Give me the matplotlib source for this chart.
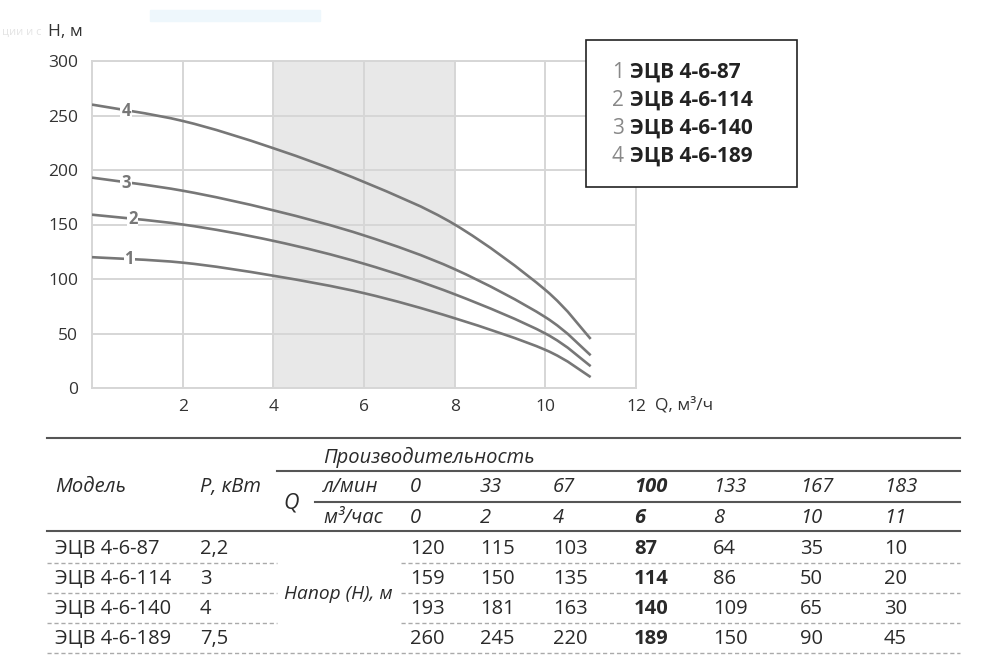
import numpy as np
import matplotlib.pyplot as plt
from matplotlib.lines import Line2D
from matplotlib.patches import Rectangle, PathPatch
from matplotlib.path import Path

plt.rcParams['font.family'] = ['Open Sans', 'DejaVu Sans']

# data from the table
q_m3h = [0, 2, 4, 6, 8, 10, 11]
q_lmin = [0, 33, 67, 100, 133, 167, 183]
models = ['ЭЦВ 4-6-87', 'ЭЦВ 4-6-114', 'ЭЦВ 4-6-140', 'ЭЦВ 4-6-189']
power = ['2,2', '3', '4', '7,5']
h_1 = [120, 115, 103, 87, 64, 35, 10]
h_2 = [159, 150, 135, 114, 86, 50, 20]
h_3 = [193, 181, 163, 140, 109, 65, 30]
h_4 = [260, 245, 220, 189, 150, 90, 45]
heads = [h_1, h_2, h_3, h_4]
curve_names = ['1', '2', '3', '4']
work_zone = (4, 8)

W, H = 990, 655
fig = plt.figure(figsize=(9.9, 6.55), dpi=100)


def fx(x):
    return x / W


def fy(y):
    return 1 - y / H


def smooth_path(xs, ys):
    # Catmull-Rom through the measured points, drawn as cubic Bezier segments
    p = np.column_stack([xs, ys]).astype(float)
    verts = [p[0]]
    codes = [Path.MOVETO]
    n = len(p)
    for i in range(n - 1):
        p0 = p[i - 1] if i > 0 else p[i]
        p3 = p[i + 2] if i + 2 < n else p[i + 1]
        c1 = p[i] + (p[i + 1] - p0) / 6
        c2 = p[i + 1] - (p3 - p[i]) / 6
        verts += [c1, c2, p[i + 1]]
        codes += [Path.CURVE4] * 3
    return Path(verts, codes)


# faint screenshot leftovers
fig.patches.append(Rectangle((fx(150), fy(21)), fx(170), 11 / H, transform=fig.transFigure,
                             color='#eef7fc', zorder=0))
fig.text(fx(2), fy(32), 'ции и с', fontsize=8, color='#e4e4e4', va='center', ha='left')

ax = fig.add_axes([fx(92), fy(388), fx(636 - 92), (388 - 61) / H])
ax.axvspan(*work_zone, color='#e8e8e8', zorder=0, lw=0)
ax.set_xlim(0, 12)
ax.set_ylim(0, 300)
ax.set_xticks([2, 4, 6, 8, 10, 12])
ax.set_yticks(range(0, 301, 50))
ax.grid(True, color='#d6d6d6', lw=1.4)
ax.set_axisbelow(True)
for s in ax.spines.values():
    s.set_color('#d6d6d6')
    s.set_linewidth(1.4)
ax.tick_params(length=0, labelsize=12.5, labelcolor='#333333')
ax.tick_params(axis='x', pad=8)
ax.tick_params(axis='y', pad=10)

label_x = [0.82, 0.9, 0.75, 0.75]
for h, name, lx in zip(heads, curve_names, label_x):
    ax.add_patch(PathPatch(smooth_path(q_m3h, h), fill=False, ec='#777777', lw=1.9,
                           capstyle='butt', zorder=3))
    ax.text(lx, np.interp(lx, q_m3h, h), name, fontsize=12, fontweight='bold', color='#777777',
            ha='center', va='center', zorder=4,
            bbox=dict(boxstyle='square,pad=0.05', fc='white', ec='none'))

fig.text(fx(48), fy(32), 'H, м', fontsize=12.5, color='#333333', va='center')
fig.text(fx(655), fy(405), 'Q, м³/ч', fontsize=12.5, color='#333333', va='center')

# legend box
fig.patches.append(Rectangle((fx(586), fy(187)), fx(797 - 586), (187 - 40) / H,
                             transform=fig.transFigure, fc='white', ec='#222222', lw=1.2, zorder=5))
for i, (name, model) in enumerate(zip(curve_names, models)):
    y = fy(72 + 28 * i)
    fig.text(fx(612), y, name, fontsize=15, color='#888888', va='center', zorder=6)
    fig.text(fx(630), y, model, fontsize=15, fontweight='bold', color='#222222', va='center', zorder=6)


# table
def hline(y, x0, x1, color='#555555', lw=1.5, ls='-'):
    fig.add_artist(Line2D([fx(x0), fx(x1)], [fy(y), fy(y)], color=color, lw=lw, ls=ls))


hline(438, 47, 960)
hline(471, 277, 960)
hline(502, 315, 960)
hline(531, 47, 960)
for y in [563, 593, 623]:
    hline(y, 47, 277, color='#aaaaaa', lw=1, ls=(0, (3, 2)))
    hline(y, 401, 960, color='#aaaaaa', lw=1, ls=(0, (3, 2)))
hline(653, 47, 960, color='#aaaaaa', lw=1, ls=(0, (3, 2)))

ts = 14.5
tc = '#2a2a2a'
fig.text(fx(323), fy(457), 'Производительность', fontsize=ts, style='italic', color=tc, va='center')
fig.text(fx(55), fy(487), 'Модель', fontsize=ts, style='italic', color=tc, va='center')
fig.text(fx(200), fy(487), 'P, кВт', fontsize=ts, style='italic', color=tc, va='center')
fig.text(fx(283), fy(503), 'Q', fontsize=ts + 1, style='italic', color=tc, va='center')
fig.text(fx(323), fy(487), 'л/мин', fontsize=ts, style='italic', color=tc, va='center')
fig.text(fx(323), fy(518), 'м³/час', fontsize=ts, style='italic', color=tc, va='center')
fig.text(fx(284), fy(594), 'Напор (H), м', fontsize=13.8, style='italic', color=tc, va='center')

col_x = [410, 480, 553, 634, 713, 800, 884]
bold_col = 3
for j, (a, b) in enumerate(zip(q_lmin, q_m3h)):
    w = 'bold' if j == bold_col else 'normal'
    fig.text(fx(col_x[j]), fy(487), str(a), fontsize=ts, style='italic', fontweight=w, color=tc, va='center')
    fig.text(fx(col_x[j]), fy(518), str(b), fontsize=ts, style='italic', fontweight=w, color=tc, va='center')

row_y = [549, 579, 609, 639]
for i, (model, p, h) in enumerate(zip(models, power, heads)):
    y = fy(row_y[i])
    fig.text(fx(55), y, model, fontsize=ts, color=tc, va='center')
    fig.text(fx(200), y, p, fontsize=ts, color=tc, va='center')
    for j, v in enumerate(h):
        w = 'bold' if j == bold_col else 'normal'
        fig.text(fx(col_x[j]), y, str(v), fontsize=ts, fontweight=w, color=tc, va='center')

fig.savefig('out.png', dpi=100)
